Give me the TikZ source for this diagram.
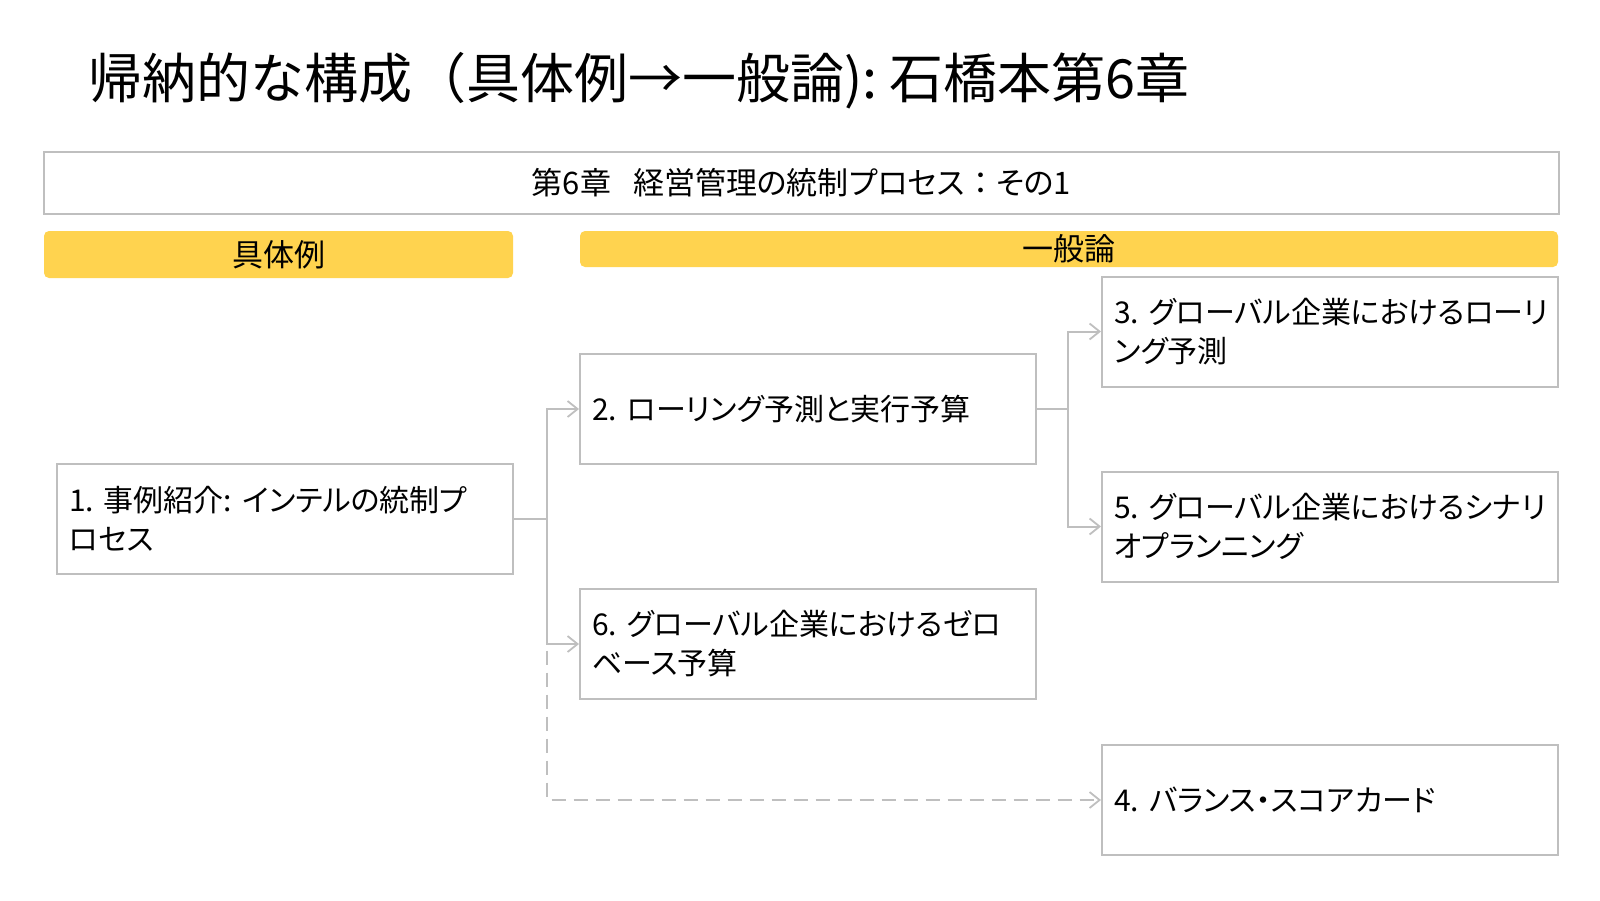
\documentclass[tikz,border=0pt]{standalone}
\usepackage{fontspec}
\setmainfont{Noto Sans CJK JP}[RawFeature=+palt]
\newfontfamily\titlefont{Noto Sans CJK JP}
\usetikzlibrary{arrows.meta,calc}
\definecolor{linegray}{HTML}{BFBFBF}
\definecolor{bandyellow}{HTML}{FFD34F}
\tikzset{
  box/.style={draw=linegray, line width=2pt, rectangle, minimum width=456pt, minimum height=110pt,
    text width=432pt, inner xsep=12pt, align=left, font=\fontsize{30}{39}\selectfont, text=black},
  band/.style={fill=bandyellow, rounded corners=5pt, draw=none, font=\fontsize{31}{36}\selectfont},
  conn/.style={draw=linegray, line width=2pt},
  arr/.style={-{Straight Barb[length=10pt,width=16pt,line width=1.8pt]}},
  dashconn/.style={conn, dash pattern=on 14pt off 8pt}
}
\begin{document}
\begin{tikzpicture}[x=1pt,y=-1pt]
\useasboundingbox (0,0) rectangle (1600,900);
\node[anchor=west, inner sep=0pt, font=\titlefont\fontsize{54}{60}\selectfont] (title) at (88,81) {帰納的な構成（具体例→一般論):~石橋本第6章};
\node[draw=linegray, line width=2pt, minimum width=1515pt, minimum height=62pt, font=\fontsize{31}{36}\selectfont] (header) at (801.5,183) {第6章\hspace{22pt}経営管理の統制プロセス{\titlefont：}その1};
\node[band, minimum width=469pt, minimum height=47pt] (ex) at (278.5,254.5) {具体例};
\node[band, minimum width=978pt, minimum height=36pt] (gen) at (1069,249) {一般論};
\node[box] (b1) at (285,518.5) {1.~事例紹介:~インテルの統制プ\\ロセス};
\node[box] (b2) at (808,409) {2.~ローリング予測と実行予算};
\node[box] (b6) at (808,644) {6.~グローバル企業におけるゼロ\\ベース予算};
\node[box] (b3) at (1330,331.5) {3.~グローバル企業におけるローリ\\ング予測};
\node[box] (b5) at (1330,526.5) {5.~グローバル企業におけるシナリ\\オプランニング};
\node[box] (b4) at (1330,800) {4.~バランス・スコアカード};
\coordinate (j1) at (547,518.5);
\coordinate (j2) at (1068,409);
\draw[dashconn, arr] (j1) |- (b4.west);
\draw[conn] (b1.east) -- (j1);
\draw[conn, arr] (j1) |- (b2.west);
\draw[conn, arr] (j1) |- (b6.west);
\draw[conn] (b2.east) -- (j2);
\draw[conn, arr] (j2) |- (b3.west);
\draw[conn, arr] (j2) |- (b5.west);
\end{tikzpicture}
\end{document}
